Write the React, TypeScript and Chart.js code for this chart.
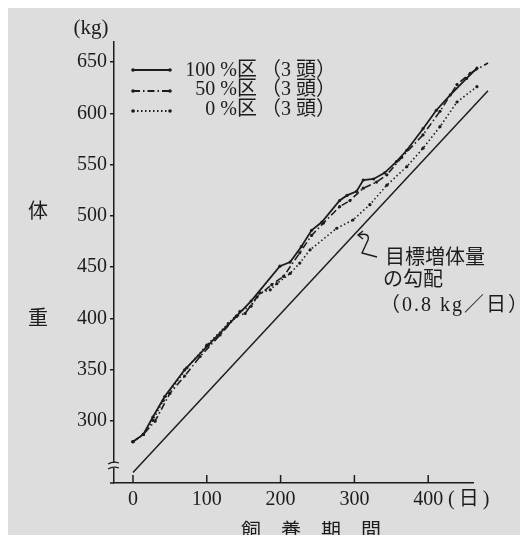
import React, { useEffect, useRef } from "react";
import { Chart, registerables } from "chart.js";
Chart.register(...registerables);

const FONT = "'Liberation Serif', 'Noto Sans CJK JP', serif";
const INK = "#1c1c1c";
const PAPER = "#dddddd";

const xTicks = [0, 100, 200, 300, 400];
const yTicks = [300, 350, 400, 450, 500, 550, 600, 650];

const seriesNames = ["100 %区", "50 %区", "0 %区"];
const headCount = "（3 頭）";

const days100 = [0, 14, 27, 43, 70, 102, 140, 160, 199, 213, 228, 242, 256, 280, 290, 303, 312, 326, 341, 357, 371, 393, 411, 430, 452, 466, 481];
const weight100 = [280, 287, 304, 324, 350, 374, 402, 417, 451, 455, 470, 486, 494, 515, 520, 524, 535, 536, 542, 553, 564, 585, 603, 618, 634, 644, 657];

const days50 = [0, 14, 30, 50, 70, 91, 118, 140, 152, 168, 188, 204, 226, 242, 258, 280, 294, 312, 330, 344, 364, 393, 416, 439, 457, 481];
const weight50 = [280, 287, 300, 327, 344, 363, 384, 402, 405, 421, 433, 441, 464, 481, 493, 509, 515, 527, 533, 540, 557, 579, 602, 628, 639, 649];

const days0 = [0, 14, 27, 41, 73, 100, 129, 145, 160, 172, 186, 195, 213, 226, 240, 276, 298, 321, 344, 371, 393, 416, 439, 466, 481];
const weight0 = [280, 287, 301, 320, 352, 374, 395, 407, 412, 425, 428, 434, 444, 454, 467, 488, 496, 511, 530, 548, 566, 587, 611, 626, 630];

const daysTarget = [0, 481];
const weightTarget = [250, 622];

const toPts = (xs: number[], ys: number[]) => xs.map((x, i) => ({ x, y: ys[i] }));

const dashDot = [7, 3, 1.5, 3];
const dotted = [1.5, 2.5];

const decor = {
  id: "decor",
  afterDraw(chart: any) {
    const ctx = chart.ctx as CanvasRenderingContext2D;
    const xs = chart.scales.x;
    const a = chart.chartArea;
    ctx.save();
    ctx.strokeStyle = INK;
    ctx.fillStyle = INK;
    ctx.lineWidth = 1.5;
    ctx.setLineDash([]);
    // inward x tick marks
    for (const v of xTicks) {
      const px = xs.getPixelForValue(v);
      ctx.beginPath();
      ctx.moveTo(px, a.bottom);
      ctx.lineTo(px, a.bottom - 8);
      ctx.stroke();
    }
    // x axis overhang left
    ctx.beginPath();
    ctx.moveTo(a.left - 4, a.bottom);
    ctx.lineTo(a.left, a.bottom);
    ctx.stroke();
    // axis break
    ctx.fillStyle = PAPER;
    ctx.fillRect(a.left - 2, a.bottom - 20, 4, 5);
    ctx.lineWidth = 1.2;
    for (const dy of [-20, -15]) {
      ctx.beginPath();
      ctx.moveTo(a.left - 6, a.bottom + dy + 1);
      ctx.quadraticCurveTo(a.left - 1, a.bottom + dy - 2, a.left + 5, a.bottom + dy);
      ctx.stroke();
    }
    // legend samples
    ctx.fillStyle = INK;
    ctx.lineWidth = 1.8;
    const rows = [62, 83, 103];
    const dashes = [[], dashDot, dotted];
    rows.forEach((y, i) => {
      ctx.setLineDash(dashes[i] as number[]);
      ctx.beginPath();
      ctx.moveTo(125, y);
      ctx.lineTo(162, y);
      ctx.stroke();
      ctx.setLineDash([]);
      for (const x of [125, 162]) {
        ctx.beginPath();
        ctx.arc(x, y, 1.8, 0, Math.PI * 2);
        ctx.fill();
      }
    });
    ctx.font = `20px ${FONT}`;
    ctx.textBaseline = "middle";
    const textRows = [63, 82, 102];
    textRows.forEach((y, i) => {
      ctx.textAlign = "right";
      ctx.fillText(seriesNames[i], 249, y);
      ctx.textAlign = "left";
      ctx.fillText(headCount, 253, y);
    });
    // unit labels
    ctx.textAlign = "center";
    ctx.font = `21px ${FONT}`;
    ctx.fillText("(kg)", 83, 20);
    ctx.font = `20px ${FONT}`;
    ctx.fillText("体", 30, 205);
    ctx.fillText("重", 30, 312);
    ctx.fillText("飼　養　期　間", 303, 525);
    ctx.textAlign = "left";
    (ctx as any).letterSpacing = "4px";
    ctx.fillText("(日)", 440, 492);
    (ctx as any).letterSpacing = "0px";
    // annotation
    ctx.fillText("目標増体量", 377, 251);
    ctx.fillText("の勾配", 375, 273);
    (ctx as any).letterSpacing = "2px";
    ctx.fillText("（0.8 kg／日）", 372, 298);
    (ctx as any).letterSpacing = "0px";
    // pointer
    ctx.lineWidth = 1.4;
    ctx.beginPath();
    ctx.moveTo(350, 227);
    ctx.quadraticCurveTo(362, 224, 360, 232);
    ctx.lineTo(354, 245);
    ctx.lineTo(369, 249);
    ctx.stroke();
    ctx.beginPath();
    ctx.moveTo(355, 223);
    ctx.lineTo(350, 227);
    ctx.lineTo(355, 231);
    ctx.stroke();
    ctx.restore();
  },
};

export default function App() {
  const ref = useRef<HTMLCanvasElement | null>(null);
  useEffect(() => {
    if (!ref.current) return;
    const common = {
      borderColor: INK,
      backgroundColor: INK,
      pointBackgroundColor: INK,
      pointBorderWidth: 0,
      pointRadius: 1.6,
      tension: 0,
      clip: false as any,
      fill: false,
    };
    const chart = new Chart(ref.current, {
      type: "line",
      data: {
        datasets: [
          { ...common, label: seriesNames[0], data: toPts(days100, weight100), borderWidth: 1.8 },
          { ...common, label: seriesNames[1], data: toPts(days50, weight50), borderWidth: 1.6, borderDash: dashDot },
          { ...common, label: seriesNames[2], data: toPts(days0, weight0), borderWidth: 1.6, borderDash: dotted },
          { ...common, label: "目標", data: toPts(daysTarget, weightTarget), borderWidth: 1.5, pointRadius: 0 },
        ],
      },
      options: {
        animation: false,
        responsive: false,
        devicePixelRatio: 1,
        layout: { padding: { left: 0, top: 34, right: 47, bottom: 0 } },
        plugins: { legend: { display: false }, tooltip: { enabled: false } },
        scales: {
          x: {
            type: "linear",
            min: -25.7,
            max: 460.7,
            afterFit: (s: any) => { s.height = 52; },
            afterBuildTicks: (s: any) => { s.ticks = xTicks.map((v) => ({ value: v })); },
            grid: { display: true, drawOnChartArea: false, drawTicks: false },
            border: { display: true, color: INK, width: 1.5 },
            ticks: { padding: 5, color: INK, font: { family: FONT, size: 20 }, maxRotation: 0, autoSkip: false },
          },
          y: {
            type: "linear",
            min: 239.7,
            max: 669.5,
            afterFit: (s: any) => { s.width = 106; },
            afterBuildTicks: (s: any) => { s.ticks = yTicks.map((v) => ({ value: v })); },
            grid: { display: true, drawOnChartArea: false, drawTicks: true, tickLength: 4, color: INK, lineWidth: 1.5 },
            border: { display: true, color: INK, width: 1.5 },
            ticks: { padding: 3, color: INK, font: { family: FONT, size: 20 }, autoSkip: false },
          },
        },
      },
      plugins: [decor],
    });
    return () => chart.destroy();
  }, []);
  return (
    <div style={{ position: "fixed", left: 0, top: 0, width: 520, height: 535, background: "#ffffff", overflow: "hidden" }}>
      <div style={{ position: "absolute", left: 8, top: 8, width: 512, height: 527, background: PAPER }}>
        <canvas ref={ref} width={512} height={527} style={{ display: "block", width: 512, height: 527 }} />
      </div>
    </div>
  );
}
